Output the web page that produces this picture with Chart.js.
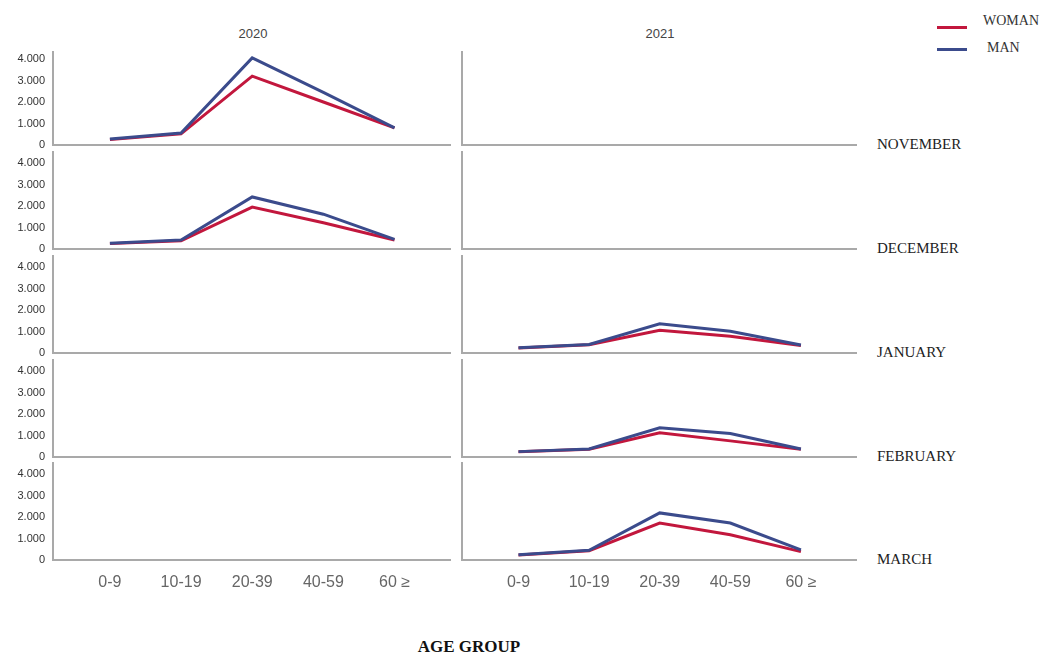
<!DOCTYPE html>
<html>
<head>
<meta charset="utf-8">
<script src="https://cdn.jsdelivr.net/npm/chart.js@4/dist/chart.umd.min.js"></script>
<style>
  html, body { margin: 0; padding: 0; background: #fff; }
  body { width: 1044px; height: 657px; position: relative; overflow: hidden; }
  canvas { position: absolute; }
  .txt { position: absolute; white-space: nowrap; line-height: 1; }
  .title { font-family: "Liberation Sans", Arial, sans-serif; font-size: 13px; color: #444; transform: translate(-50%, -50%); }
  .row { font-family: "Liberation Serif", "Times New Roman", serif; font-size: 15px; color: #222; transform: translateY(-50%); }
  .leg { font-family: "Liberation Serif", "Times New Roman", serif; font-size: 14px; color: #333; transform: translateY(-50%); }
  .swatch { position: absolute; width: 30px; height: 3px; }
  .axis-title { font-family: "Liberation Serif", "Times New Roman", serif; font-weight: bold; font-size: 17px; color: #111; transform: translate(-50%, -50%); }
</style>
</head>
<body>
<script>
// Age groups on the horizontal axis
const ageGroups = ['0-9', '10-19', '20-39', '40-59', '60 ≥'];
// Panel columns and rows
const years = ['2020', '2021'];
const months = ['NOVEMBER', 'DECEMBER', 'JANUARY', 'FEBRUARY', 'MARCH'];
// Cases by age group, one entry per month row (null = no data for that year)
const woman2020 = [
  [250, 520, 3200, 2000, 800],
  [250, 380, 1950, 1220, 420],
  null, null, null
];
const man2020 = [
  [280, 560, 4050, 2450, 800],
  [270, 420, 2420, 1620, 450],
  null, null, null
];
const woman2021 = [
  null, null,
  [230, 380, 1060, 780, 350],
  [240, 360, 1130, 750, 360],
  [230, 430, 1720, 1170, 390]
];
const man2021 = [
  null, null,
  [240, 400, 1360, 1010, 370],
  [250, 370, 1360, 1090, 370],
  [240, 450, 2190, 1720, 470]
];
// Y axis tick values
const yTicks = [0, 1000, 2000, 3000, 4000];

const seriesNames = ['WOMAN', 'MAN'];
const seriesColors = ['#c2173d', '#3b4b8c'];

// Layout of the 5 x 2 panel grid (plot-area edges, px)
const colCanvasLeft = [0, 455];
const colPlotLeft = [53, 462];
const colPlotRight = [450, 856];
const rowTop = [52, 152, 256, 360, 463];
const rowBottom = [145, 249, 353, 457, 560];
const pxPerThousand = 21.5;

function fmtThousands(v) {
  return String(v).replace(/\B(?=(\d{3})+(?!\d))/g, '.');
}

function addText(cls, text, left, top) {
  const d = document.createElement('div');
  d.className = 'txt ' + cls;
  d.textContent = text;
  d.style.left = left + 'px';
  d.style.top = top + 'px';
  document.body.appendChild(d);
  return d;
}

// Fixed axis thickness, with no extra room reserved for overhanging tick labels
function fixBox(ax, prop, size) {
  ax[prop] = size;
  ax.paddingTop = 0; ax.paddingBottom = 0;
  ax.paddingLeft = 0; ax.paddingRight = 0;
}

function makePanel(col, row) {
  const womanData = (col === 0 ? woman2020 : woman2021)[row];
  const manData = (col === 0 ? man2020 : man2021)[row];
  const isBottom = row === months.length - 1;
  const padTop = 3, padRight = 3;
  const xAxisH = isBottom ? 50 : 3;
  const yAxisW = colPlotLeft[col] - colCanvasLeft[col];
  const plotH = rowBottom[row] - rowTop[row];

  const cv = document.createElement('canvas');
  const w = colPlotRight[col] - colCanvasLeft[col] + padRight;
  const h = plotH + padTop + xAxisH;
  cv.width = w; cv.height = h;
  cv.style.width = w + 'px'; cv.style.height = h + 'px';
  cv.style.left = colCanvasLeft[col] + 'px';
  cv.style.top = (rowTop[row] - padTop) + 'px';
  document.body.appendChild(cv);

  const toPoints = arr => (arr || []).map((v, i) => ({ x: i, y: v }));
  const datasets = [
    { label: seriesNames[0], data: toPoints(womanData), borderColor: seriesColors[0], order: 1 },
    { label: seriesNames[1], data: toPoints(manData), borderColor: seriesColors[1], order: 0 }
  ].map(ds => Object.assign(ds, { borderWidth: 3, pointRadius: 0, tension: 0, fill: false }));

  new Chart(cv, {
    type: 'line',
    data: { datasets },
    options: {
      responsive: false,
      animation: false,
      devicePixelRatio: 1,
      events: [],
      layout: { padding: { top: padTop, right: padRight, left: 0, bottom: 0 } },
      plugins: { legend: { display: false }, tooltip: { enabled: false } },
      scales: {
        x: {
          type: 'linear',
          min: -0.8,
          max: 4.78,
          grid: { display: false, drawTicks: false },
          border: { display: true, color: '#a9a9a9', width: 2 },
          afterBuildTicks: ax => { ax.ticks = ageGroups.map((_, i) => ({ value: i })); },
          afterFit: ax => fixBox(ax, 'height', xAxisH),
          ticks: {
            display: isBottom,
            padding: 13,
            color: '#666',
            font: { family: 'Liberation Sans', size: 16 },
            callback: v => ageGroups[v]
          }
        },
        y: {
          type: 'linear',
          min: 0,
          max: plotH / pxPerThousand * 1000,
          grid: { display: false, drawTicks: false },
          border: { display: true, color: '#a9a9a9', width: 2 },
          afterBuildTicks: ax => { ax.ticks = yTicks.map(v => ({ value: v })); },
          afterFit: ax => fixBox(ax, 'width', yAxisW),
          ticks: {
            display: col === 0,
            padding: 8,
            color: '#333',
            font: { family: 'Liberation Sans', size: 11 },
            callback: v => fmtThousands(v)
          }
        }
      }
    }
  });
}

for (let r = 0; r < months.length; r++) {
  for (let c = 0; c < years.length; c++) makePanel(c, r);
}

// Column titles
addText('title', years[0], 253, 33);
addText('title', years[1], 660, 33);

// Row labels
months.forEach((m, r) => addText('row', m, 877, rowBottom[r] - 1));

// Legend
seriesNames.forEach((name, i) => {
  const sw = document.createElement('div');
  sw.className = 'swatch';
  sw.style.left = '937px';
  sw.style.top = (i === 0 ? 26 : 48) + 'px';
  sw.style.background = seriesColors[i];
  document.body.appendChild(sw);
  addText('leg', name, i === 0 ? 983 : 987, i === 0 ? 21 : 48);
});

// Horizontal axis title
addText('axis-title', 'AGE GROUP', 469, 646);
</script>
</body>
</html>
